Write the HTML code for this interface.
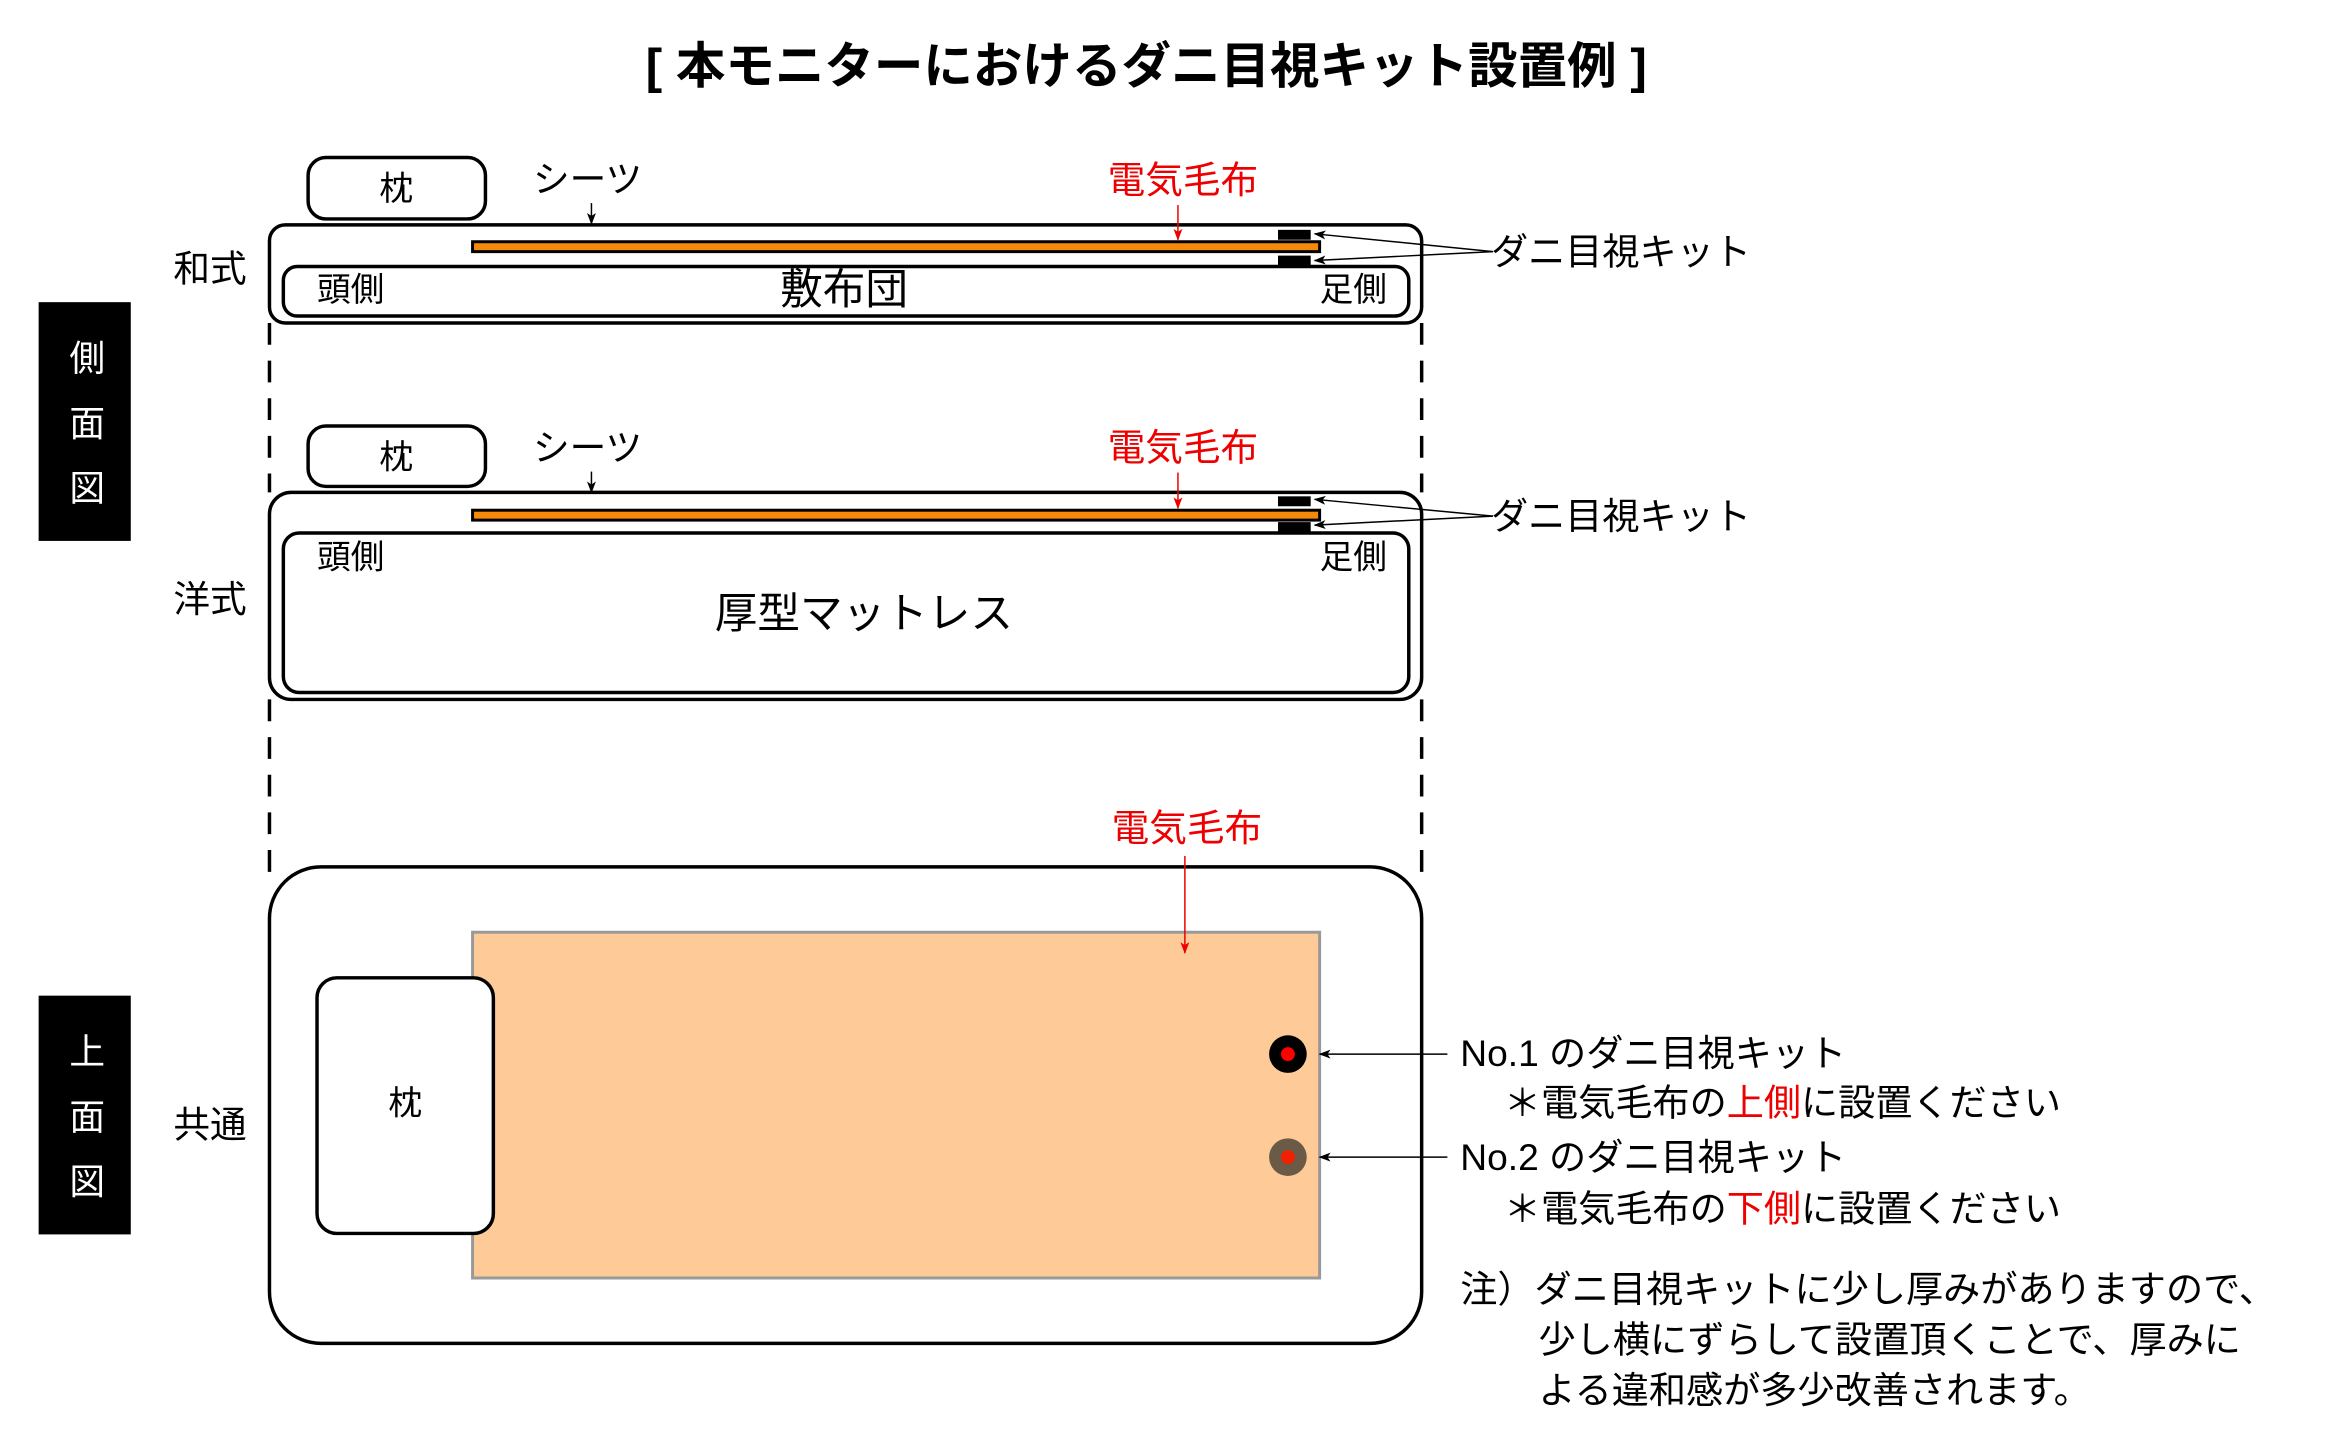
<!DOCTYPE html>
<html><head><meta charset="utf-8"><style>
html,body{margin:0;padding:0;background:#fff;}
svg{display:block;}
text{font-family:"Liberation Sans","Noto Sans CJK JP",sans-serif;}
</style></head><body>
<svg width="2333" height="1442" viewBox="0 0 2333 1442" xmlns="http://www.w3.org/2000/svg">
<defs>
<marker id="ak" markerWidth="12" markerHeight="9" refX="11" refY="4.5" orient="auto" markerUnits="userSpaceOnUse"><path d="M0,0 L12,4.5 L0,9 L3,4.5 z" fill="#000"/></marker>
<marker id="ar" markerWidth="12" markerHeight="9" refX="11" refY="4.5" orient="auto" markerUnits="userSpaceOnUse"><path d="M0,0 L12,4.5 L0,9 L3,4.5 z" fill="#e00"/></marker>
</defs>
<g transform="scale(0.9907)">
<text x="1157" y="84" font-size="50" font-weight="bold" text-anchor="middle">[ 本モニターにおけるダニ目視キット設置例 ]</text>

<rect x="39" y="305" width="93" height="241" fill="#000"/>
<text x="88" y="374" font-size="36" fill="#fff" text-anchor="middle">側</text>
<text x="88" y="440" font-size="36" fill="#fff" text-anchor="middle">面</text>
<text x="88" y="505" font-size="36" fill="#fff" text-anchor="middle">図</text>
<rect x="39" y="1005" width="93" height="241" fill="#000"/>
<text x="88" y="1074" font-size="36" fill="#fff" text-anchor="middle">上</text>
<text x="88" y="1140" font-size="36" fill="#fff" text-anchor="middle">面</text>
<text x="88" y="1205" font-size="36" fill="#fff" text-anchor="middle">図</text>

<text x="212" y="284" font-size="37" text-anchor="middle">和式</text>
<text x="212" y="618" font-size="37" text-anchor="middle">洋式</text>
<text x="212" y="1148" font-size="37" text-anchor="middle">共通</text>

<g stroke="#000" stroke-width="3.5" stroke-dasharray="22,16">
<line x1="272" y1="326" x2="272" y2="497"/>
<line x1="1435" y1="326" x2="1435" y2="497"/>
<line x1="272" y1="706" x2="272" y2="885"/>
<line x1="1435" y1="706" x2="1435" y2="885"/>
</g>

<rect x="311" y="159" width="179" height="62" rx="18" fill="#fff" stroke="#000" stroke-width="3.5"/>
<text x="400" y="202" font-size="34" text-anchor="middle">枕</text>
<text x="538" y="194" font-size="37">シーツ</text>
<line x1="597" y1="205" x2="597" y2="226" stroke="#000" stroke-width="1.5" marker-end="url(#ak)"/>
<text x="1118" y="195" font-size="38" fill="#e00">電気毛布</text>
<rect x="272" y="227" width="1163" height="99" rx="16" fill="#fff" stroke="#000" stroke-width="3.5"/>
<rect x="286" y="269" width="1136" height="50" rx="14" fill="#fff" stroke="#000" stroke-width="3.5"/>
<rect x="477" y="244" width="855" height="10" fill="#f58a0a" stroke="#000" stroke-width="3"/>
<line x1="1189" y1="207" x2="1189" y2="242" stroke="#e00" stroke-width="1.5" marker-end="url(#ar)"/>
<rect x="1290" y="232" width="33" height="10" fill="#000"/>
<rect x="1290" y="258" width="33" height="11" fill="#000"/>
<text x="320" y="304" font-size="34">頭側</text>
<text x="852" y="307" font-size="43" text-anchor="middle">敷布団</text>
<text x="1332" y="304" font-size="34">足側</text>
<line x1="1507" y1="254" x2="1327" y2="236" stroke="#000" stroke-width="1.5" marker-end="url(#ak)"/>
<line x1="1507" y1="254" x2="1327" y2="263" stroke="#000" stroke-width="1.5" marker-end="url(#ak)"/>
<text x="1505" y="267" font-size="37.5">ダニ目視キット</text>

<rect x="311" y="430" width="179" height="61" rx="18" fill="#fff" stroke="#000" stroke-width="3.5"/>
<text x="400" y="473" font-size="34" text-anchor="middle">枕</text>
<text x="538" y="465" font-size="37">シーツ</text>
<line x1="597" y1="476" x2="597" y2="497" stroke="#000" stroke-width="1.5" marker-end="url(#ak)"/>
<text x="1118" y="465" font-size="38" fill="#e00">電気毛布</text>
<rect x="272" y="497" width="1163" height="209" rx="22" fill="#fff" stroke="#000" stroke-width="3.5"/>
<rect x="286" y="538" width="1136" height="161" rx="16" fill="#fff" stroke="#000" stroke-width="3.5"/>
<rect x="477" y="515" width="855" height="10" fill="#f58a0a" stroke="#000" stroke-width="3"/>
<line x1="1189" y1="477" x2="1189" y2="513" stroke="#e00" stroke-width="1.5" marker-end="url(#ar)"/>
<rect x="1290" y="501" width="33" height="10" fill="#000"/>
<rect x="1290" y="527" width="33" height="11" fill="#000"/>
<text x="320" y="574" font-size="34">頭側</text>
<text x="1332" y="574" font-size="34">足側</text>
<text x="872" y="634" font-size="43" text-anchor="middle">厚型マットレス</text>
<line x1="1507" y1="521" x2="1327" y2="504" stroke="#000" stroke-width="1.5" marker-end="url(#ak)"/>
<line x1="1507" y1="521" x2="1327" y2="530" stroke="#000" stroke-width="1.5" marker-end="url(#ak)"/>
<text x="1505" y="534" font-size="37.5">ダニ目視キット</text>

<text x="1198" y="849" font-size="38" fill="#e00" text-anchor="middle">電気毛布</text>
<rect x="272" y="875" width="1163" height="481" rx="52" fill="#fff" stroke="#000" stroke-width="3.5"/>
<rect x="477" y="941" width="855" height="349" fill="#fecb98" stroke="#999" stroke-width="3"/>
<line x1="1196" y1="864" x2="1196" y2="962" stroke="#e00" stroke-width="1.5" marker-end="url(#ar)"/>
<rect x="320" y="987" width="178" height="258" rx="20" fill="#fff" stroke="#000" stroke-width="3.5"/>
<text x="409" y="1125" font-size="34" text-anchor="middle">枕</text>
<circle cx="1300" cy="1064" r="19" fill="#000"/>
<circle cx="1300" cy="1064" r="7" fill="#f00"/>
<circle cx="1300" cy="1168" r="19" fill="#6b5a45"/>
<circle cx="1300" cy="1168" r="7" fill="#f02000"/>
<line x1="1461" y1="1064" x2="1332" y2="1064" stroke="#000" stroke-width="1.5" marker-end="url(#ak)"/>
<line x1="1461" y1="1168" x2="1332" y2="1168" stroke="#000" stroke-width="1.5" marker-end="url(#ak)"/>
<text x="1474" y="1076" font-size="37.5">No.1 のダニ目視キット</text>
<text x="1518" y="1126" font-size="37.5">＊電気毛布の<tspan fill="#e00">上側</tspan>に設置ください</text>
<text x="1474" y="1181" font-size="37.5">No.2 のダニ目視キット</text>
<text x="1518" y="1233" font-size="37.5">＊電気毛布の<tspan fill="#e00">下側</tspan>に設置ください</text>
<text x="1474" y="1314" font-size="37.5">注）ダニ目視キットに少し厚みがありますので、</text>
<text x="1553" y="1365" font-size="37.5">少し横にずらして設置頂くことで、厚みに</text>
<text x="1553" y="1416" font-size="37.5">よる違和感が多少改善されます。</text>
</g>
</svg>
</body></html>
